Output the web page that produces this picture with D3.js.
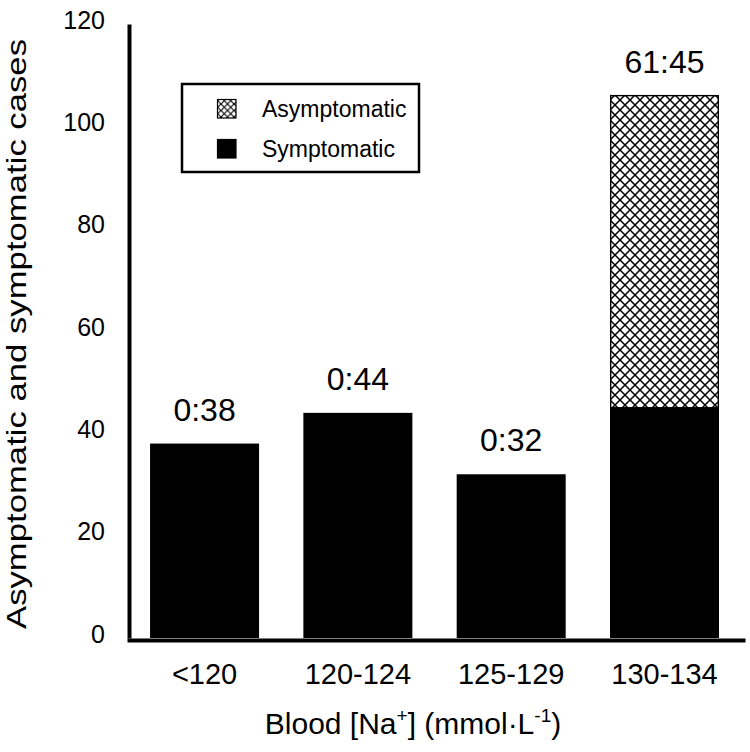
<!DOCTYPE html>
<html>
<head>
<meta charset="utf-8">
<script src="https://cdn.jsdelivr.net/npm/d3@7"></script>
<style>
  body { margin: 0; background: #fff; }
  svg text { font-family: "Liberation Sans", Arial, sans-serif; fill: #000; }
</style>
</head>
<body>
<svg id="chart"></svg>
<script>
const categories = ["<120", "120-124", "125-129", "130-134"];
const symptomatic = [38, 44, 32, 45];
const asymptomatic = [0, 0, 0, 61];
const yTicks = [0, 20, 40, 60, 80, 100, 120];

const width = 750, height = 752;

const svg = d3.select("#chart")
    .attr("width", width)
    .attr("height", height);

// crosshatch fill for asymptomatic cases
const defs = svg.append("defs");
function hatch(id, size, sw) {
    const p = defs.append("pattern")
        .attr("id", id)
        .attr("patternUnits", "userSpaceOnUse")
        .attr("width", size)
        .attr("height", size);
    p.append("rect").attr("width", size).attr("height", size).attr("fill", "#fff");
    p.append("path")
        .attr("d", `M0,0L${size},${size}M${size},0L0,${size}`)
        .attr("stroke", "#000")
        .attr("stroke-width", sw);
}
hatch("xhatch", 10, 1.5);
hatch("xhatchSmall", 6.5, 1.1);

const x = d3.scaleBand()
    .domain(categories)
    .range([127, 745])
    .paddingInner(0.289)
    .paddingOuter(0.16)
    .align(0.47);

const y = d3.scaleLinear()
    .domain([0, 120])
    .range([638, 24]);

// symptomatic (bottom) bars
svg.selectAll(".sym")
    .data(categories)
    .enter().append("rect")
    .attr("class", "sym")
    .attr("x", d => x(d))
    .attr("y", (d, i) => y(symptomatic[i]))
    .attr("width", x.bandwidth())
    .attr("height", (d, i) => y(0) - y(symptomatic[i]))
    .attr("fill", "#000");

// asymptomatic (stacked on top)
svg.selectAll(".asym")
    .data(categories.filter((d, i) => asymptomatic[i] > 0))
    .enter().append("rect")
    .attr("class", "asym")
    .attr("x", d => x(d) + 0.7)
    .attr("y", d => y(symptomatic[categories.indexOf(d)] + asymptomatic[categories.indexOf(d)]))
    .attr("width", x.bandwidth() - 1.4)
    .attr("height", d => {
        const i = categories.indexOf(d);
        return y(symptomatic[i]) - y(symptomatic[i] + asymptomatic[i]);
    })
    .attr("fill", "url(#xhatch)")
    .attr("stroke", "#000")
    .attr("stroke-width", 1.4);

// ratio labels above bars
svg.selectAll(".ratio")
    .data(categories)
    .enter().append("text")
    .attr("class", "ratio")
    .attr("x", d => x(d) + x.bandwidth() / 2)
    .attr("y", (d, i) => y(symptomatic[i] + asymptomatic[i]) - 23)
    .attr("text-anchor", "middle")
    .attr("font-size", "32px")
    .text((d, i) => `${asymptomatic[i]}:${symptomatic[i]}`);

// axes
const yAxis = svg.append("g")
    .attr("transform", "translate(129,0)")
    .call(d3.axisLeft(y).tickValues(yTicks).tickSize(0).tickPadding(24));
yAxis.select(".domain").attr("stroke-width", 4);
yAxis.selectAll("text")
    .attr("font-size", "25px")
    .attr("y", -4);

const xAxis = svg.append("g")
    .attr("transform", "translate(0,640)")
    .call(d3.axisBottom(x).tickSize(0).tickPadding(23));
xAxis.select(".domain").attr("stroke-width", 4);
xAxis.selectAll("text")
    .attr("font-size", "29px");

// axis titles
const xTitle = svg.append("text")
    .attr("x", 413)
    .attr("y", 734)
    .attr("text-anchor", "middle")
    .attr("font-size", "30px");
xTitle.append("tspan").text("Blood [Na");
xTitle.append("tspan").attr("font-size", "19px").attr("dy", -12).text("+");
xTitle.append("tspan").attr("dy", 12).text("] (mmol\u00B7L");
xTitle.append("tspan").attr("font-size", "19px").attr("dy", -12).text("-1");
xTitle.append("tspan").attr("dy", 12).text(")");

svg.append("text")
    .attr("transform", "translate(26,334) rotate(-90)")
    .attr("text-anchor", "middle")
    .attr("font-size", "28px")
    .attr("textLength", 590)
    .attr("lengthAdjust", "spacingAndGlyphs")
    .text("Asymptomatic and symptomatic cases");

// legend
const legend = svg.append("g");
legend.append("rect")
    .attr("x", 182)
    .attr("y", 84)
    .attr("width", 237)
    .attr("height", 88)
    .attr("fill", "#fff")
    .attr("stroke", "#000")
    .attr("stroke-width", 2.5);

const legendItems = [
    { label: "Asymptomatic", fill: "url(#xhatchSmall)", top: 99 },
    { label: "Symptomatic", fill: "#000", top: 139 }
];
legendItems.forEach(it => {
    legend.append("rect")
        .attr("x", 217.5)
        .attr("y", it.top + 0.5)
        .attr("width", 18.5)
        .attr("height", 18.5)
        .attr("fill", it.fill)
        .attr("stroke", "#000")
        .attr("stroke-width", 1.2);
    legend.append("text")
        .attr("x", 262)
        .attr("y", it.top + 18)
        .attr("font-size", "23px")
        .text(it.label);
});
</script>
</body>
</html>
